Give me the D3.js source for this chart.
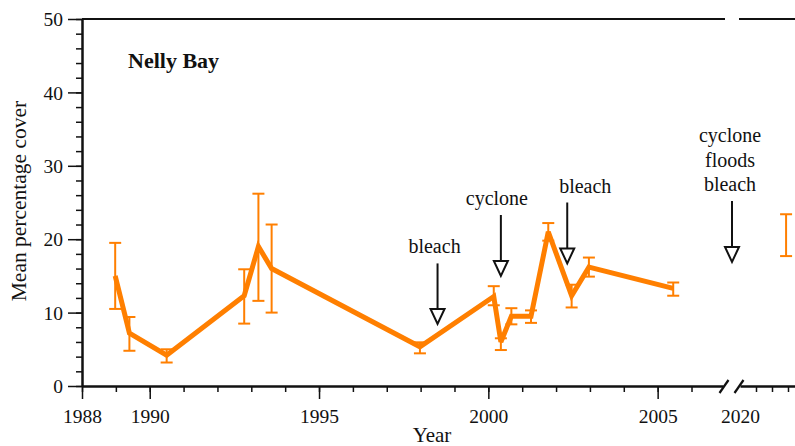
<!DOCTYPE html>
<html>
<head>
<meta charset="utf-8">
<script src="https://cdn.jsdelivr.net/npm/d3@7"></script>
<style>
  html, body { margin: 0; padding: 0; background: #fff; }
  svg { display: block; }
  text { font-family: "Liberation Serif", "Times New Roman", serif; fill: #111; }
</style>
</head>
<body>
<svg id="chart" width="795" height="446"></svg>
<script>
// Survey years (decimal) and mean percentage cover with error bar limits
const years = [1988.98, 1989.40, 1990.50, 1992.79, 1993.21, 1993.60, 1997.98, 2000.16,
               2000.37, 2000.68, 2001.26, 2001.77, 2002.46, 2002.97, 2005.46, 2022.88];
const meanCover = [15.0, 7.2, 4.2, 12.3, 19.0, 16.0, 5.35, 12.2,
                   6.0, 9.5, 9.5, 21.0, 12.3, 16.2, 13.3, 20.6];
const lowerCover = [10.5, 4.8, 3.2, 8.5, 11.6, 10.0, 4.45, 11.0,
                    4.9, 8.4, 8.6, 19.8, 10.7, 14.9, 12.3, 17.7];
const upperCover = [19.5, 9.4, 5.0, 15.9, 26.2, 22.0, 5.95, 13.6,
                    6.5, 10.6, 10.3, 22.2, 13.8, 17.5, 14.1, 23.4];

// Disturbance events
const eventYears = [1998.5, 2000.37, 2002.33, 2019.5];
const eventLabels = [["bleach"], ["cyclone"], ["bleach"], ["cyclone", "floods", "bleach"]];

// Axis ticks
const yMajorTicks = [0, 10, 20, 30, 40, 50];
const yMinorTicks = d3.range(0, 51, 2);
const xMajorTicks = [1988, 1990, 1995, 2000, 2005];
const xMinorTicks = d3.range(1988, 2007, 1);
const x2LabelTicks = [2020];
const x2MinorTicks = [2021, 2022, 2023];

const site = "Nelly Bay";
const xTitle = "Year";
const yTitle = "Mean percentage cover";

// ---------------------------------------------------------------
const svg = d3.select("#chart");
const orange = "#ff7f00";
const ink = "#111";
const serif = '"Liberation Serif", "Times New Roman", serif';

const plotTop = 19, plotBottom = 386, plotLeft = 82;
const y = d3.scaleLinear().domain([0, 50]).range([plotBottom, plotTop]);
// Broken x axis: main period and a short recent segment
const x1 = d3.scaleLinear().domain([1988, 2006.93]).range([plotLeft, 723]);
const x2 = d3.scaleLinear().domain([2020, 2023.75]).range([740, 800]);
const xOf = yr => yr < 2010 ? x1(yr) : x2(yr);

const data = years.map((yr, i) => ({ yr, m: meanCover[i], lo: lowerCover[i], hi: upperCover[i] }));

// Top frame line, broken to match the axis break
svg.append("line").attr("x1", plotLeft).attr("x2", 725).attr("y1", plotTop).attr("y2", plotTop)
  .attr("stroke", ink).attr("stroke-width", 2);
svg.append("line").attr("x1", 739).attr("x2", 800).attr("y1", plotTop).attr("y2", plotTop)
  .attr("stroke", ink).attr("stroke-width", 2);

function styleAxis(g) {
  g.attr("font-family", serif).attr("font-size", 19.5);
  g.selectAll(".tick line").attr("stroke", ink).attr("stroke-width", 1.5);
  g.selectAll(".tick text").attr("fill", ink);
}

// Y axis
const yMinor = svg.append("g").attr("transform", `translate(${plotLeft},0)`)
  .call(d3.axisLeft(y).tickValues(yMinorTicks).tickSize(6).tickFormat(""));
yMinor.select(".domain").remove();
styleAxis(yMinor);
const yMajor = svg.append("g").attr("transform", `translate(${plotLeft},0)`)
  .call(d3.axisLeft(y).tickValues(yMajorTicks).tickSize(14).tickPadding(5).tickSizeOuter(0));
yMajor.select(".domain").attr("stroke", ink).attr("stroke-width", 2.5);
styleAxis(yMajor);
yMajor.selectAll(".tick text").attr("dy", "0.34em");

// X axis, main segment
const xMinor = svg.append("g").attr("transform", `translate(0,${plotBottom})`)
  .call(d3.axisBottom(x1).tickValues(xMinorTicks).tickSize(6).tickFormat(""));
xMinor.select(".domain").remove();
styleAxis(xMinor);
const xMajor = svg.append("g").attr("transform", `translate(0,${plotBottom})`)
  .call(d3.axisBottom(x1).tickValues(xMajorTicks).tickSize(13).tickPadding(10)
    .tickFormat(d3.format("d")).tickSizeOuter(0));
xMajor.select(".domain").attr("stroke", ink).attr("stroke-width", 2.5);
styleAxis(xMajor);

// X axis, recent segment
const x2Minor = svg.append("g").attr("transform", `translate(0,${plotBottom})`)
  .call(d3.axisBottom(x2).tickValues(x2MinorTicks).tickSize(6).tickFormat(""));
x2Minor.select(".domain").remove();
styleAxis(x2Minor);
const x2Major = svg.append("g").attr("transform", `translate(0,${plotBottom})`)
  .call(d3.axisBottom(x2).tickValues(x2LabelTicks).tickSize(0).tickPadding(23)
    .tickFormat(d3.format("d")).tickSizeOuter(0));
x2Major.select(".domain").attr("stroke", ink).attr("stroke-width", 2.5);
styleAxis(x2Major);

// Break marks
[[719.5, 728.5], [734.5, 743.5]].forEach(([a, b]) => {
  svg.append("line").attr("x1", a).attr("y1", plotBottom + 7).attr("x2", b).attr("y2", plotBottom - 6)
    .attr("stroke", ink).attr("stroke-width", 2.2);
});

// Error bars
const cap = 6;
const eb = svg.append("g").attr("stroke", orange).attr("stroke-width", 2).attr("fill", "none");
data.forEach(d => {
  const cx = xOf(d.yr);
  eb.append("line").attr("x1", cx).attr("x2", cx).attr("y1", y(d.lo)).attr("y2", y(d.hi));
  eb.append("line").attr("x1", cx - cap).attr("x2", cx + cap).attr("y1", y(d.lo)).attr("y2", y(d.lo));
  eb.append("line").attr("x1", cx - cap).attr("x2", cx + cap).attr("y1", y(d.hi)).attr("y2", y(d.hi));
});

// Mean cover line (main period only)
const line = d3.line().x(d => xOf(d.yr)).y(d => y(d.m));
svg.append("path").datum(data.filter(d => d.yr < 2010))
  .attr("d", line).attr("fill", "none").attr("stroke", orange)
  .attr("stroke-width", 5).attr("stroke-linejoin", "miter").attr("stroke-miterlimit", 3);

// Event arrows (shaft from / to in cover units) and label offsets in px
const arrowTop = [16.7, 23.3, 25.0, 25.2];
const arrowTip = [8.45, 15.0, 16.7, 16.9];
const labelDx = [-3, -4, 18, -2];
const ann = svg.append("g").attr("font-family", serif);
eventYears.forEach((yr, i) => {
  const ax = xOf(yr);
  const yt = y(arrowTop[i]), yp = y(arrowTip[i]);
  const headH = 15, headW = 7;
  ann.append("line").attr("x1", ax).attr("x2", ax).attr("y1", yt).attr("y2", yp - headH)
    .attr("stroke", ink).attr("stroke-width", 2);
  ann.append("path")
    .attr("d", `M${ax - headW},${yp - headH}L${ax + headW},${yp - headH}L${ax},${yp}Z`)
    .attr("fill", "#fff").attr("stroke", ink).attr("stroke-width", 2).attr("stroke-linejoin", "miter");
  const lines = eventLabels[i];
  lines.forEach((t, j) => {
    ann.append("text")
      .attr("x", ax + labelDx[i])
      .attr("y", yt - 10 - (lines.length - 1 - j) * 24.3)
      .attr("text-anchor", "middle")
      .attr("font-size", 20)
      .text(t);
  });
});

// Site name
svg.append("text").attr("x", 128).attr("y", 68).attr("font-family", serif)
  .attr("font-size", 22).attr("font-weight", "bold").text(site);

// Axis titles
svg.append("text").attr("x", 432).attr("y", 442).attr("text-anchor", "middle")
  .attr("font-family", serif).attr("font-size", 21).text(xTitle);
svg.append("text").attr("transform", "translate(26,201) rotate(-90)")
  .attr("text-anchor", "middle").attr("font-family", serif).attr("font-size", 21.5).text(yTitle);
</script>
</body>
</html>
